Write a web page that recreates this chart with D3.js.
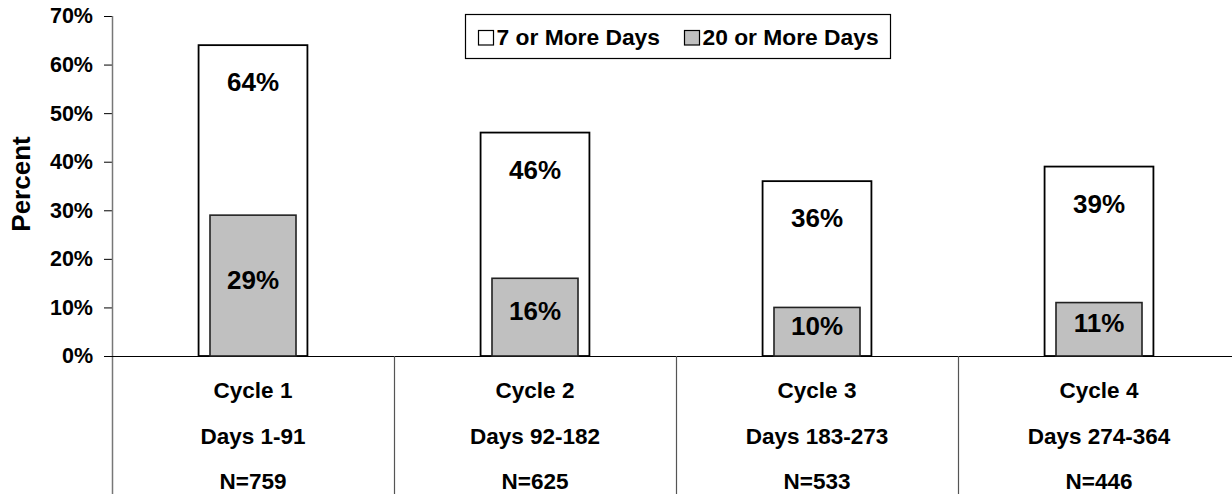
<!DOCTYPE html>
<html>
<head>
<meta charset="utf-8">
<script src="https://cdn.jsdelivr.net/npm/d3@7"></script>
<style>
  html, body { margin: 0; padding: 0; background: #fff; }
  svg { display: block; }
  text { font-family: "Liberation Sans", Arial, sans-serif; font-weight: bold; fill: #000; }
</style>
</head>
<body>
<svg id="chart" width="1232" height="494"></svg>
<script>
// ---- data ----
const categories = ["Cycle 1", "Cycle 2", "Cycle 3", "Cycle 4"];
const dayRanges = ["Days 1-91", "Days 92-182", "Days 183-273", "Days 274-364"];
const sampleSizes = ["N=759", "N=625", "N=533", "N=446"];
const sevenOrMore = [64, 46, 36, 39];
const twentyOrMore = [29, 16, 10, 11];
const seriesNames = ["7 or More Days", "20 or More Days"];
const yTicks = [0, 10, 20, 30, 40, 50, 60, 70];

// ---- layout ----
const W = 1232, H = 494;
const svg = d3.select("#chart");
const x = d3.scaleBand().domain(categories).range([112, 1240]).padding(0);
const y = d3.scaleLinear().domain([0, 70]).range([356, 16]);
const wideW = x.bandwidth() * 0.386;
const narrowW = x.bandwidth() * 0.305;
const fills = ["#ffffff", "#c0c0c0"];

// y axis
const yAxis = d3.axisLeft(y).tickValues(yTicks).tickFormat(d => d + "%")
  .tickSize(8).tickPadding(11);
const gy = svg.append("g").attr("transform", "translate(112,0)").call(yAxis);
gy.select(".domain").remove();
gy.selectAll(".tick line").attr("stroke", "#000").attr("stroke-width", 1);
gy.selectAll(".tick text").style("font-size", "21.5px").attr("font-family", null);

// axis lines
svg.append("line").attr("x1", 112.5).attr("x2", 112.5).attr("y1", y(70)).attr("y2", H)
  .attr("stroke", "#777").attr("stroke-width", 1.5);
svg.append("line").attr("x1", 104).attr("x2", W).attr("y1", y(0) + 0.5).attr("y2", y(0) + 0.5)
  .attr("stroke", "#000").attr("stroke-width", 1.2);
// category separators
svg.selectAll("line.sep").data(categories.slice(1)).join("line")
  .attr("class", "sep")
  .attr("x1", d => Math.round(x(d)) + 0.5).attr("x2", d => Math.round(x(d)) + 0.5)
  .attr("y1", y(0)).attr("y2", H)
  .attr("stroke", "#555").attr("stroke-width", 1.2);

// y title
svg.append("text").attr("transform", "translate(30,184) rotate(-90)")
  .attr("text-anchor", "middle").style("font-size", "26px").text("Percent");

// bars
const cx = c => x(c) + x.bandwidth() / 2;
svg.selectAll("rect.wide").data(categories).join("rect")
  .attr("class", "wide")
  .attr("x", d => cx(d) - wideW / 2).attr("width", wideW)
  .attr("y", (d, i) => y(sevenOrMore[i])).attr("height", (d, i) => y(0) - y(sevenOrMore[i]))
  .attr("fill", fills[0]).attr("stroke", "#000").attr("stroke-width", 1.8);
svg.selectAll("rect.narrow").data(categories).join("rect")
  .attr("class", "narrow")
  .attr("x", d => cx(d) - narrowW / 2).attr("width", narrowW)
  .attr("y", (d, i) => y(twentyOrMore[i])).attr("height", (d, i) => y(0) - y(twentyOrMore[i]))
  .attr("fill", fills[1]).attr("stroke", "#222").attr("stroke-width", 1.6);

// value labels
svg.selectAll("text.v1").data(categories).join("text")
  .attr("class", "v1").attr("text-anchor", "middle").style("font-size", "26px")
  .attr("x", d => cx(d)).attr("y", (d, i) => y(sevenOrMore[i]) + 46)
  .text((d, i) => sevenOrMore[i] + "%");
svg.selectAll("text.v2").data(categories).join("text")
  .attr("class", "v2").attr("text-anchor", "middle").style("font-size", "26px")
  .attr("x", d => cx(d)).attr("y", (d, i) => (y(twentyOrMore[i]) + y(0)) / 2 + 3)
  .text((d, i) => twentyOrMore[i] + "%");

// category labels (3 lines)
const lines = [categories, dayRanges, sampleSizes];
const baselines = [398, 444, 488.5];
lines.forEach((arr, li) => {
  svg.selectAll("text.cat" + li).data(arr).join("text")
    .attr("class", "cat" + li).attr("text-anchor", "middle").style("font-size", "22.5px")
    .attr("x", (d, i) => cx(categories[i])).attr("y", baselines[li])
    .text(d => d);
});

// legend
const lg = svg.append("g");
lg.append("rect").attr("x", 465.5).attr("y", 14.5).attr("width", 425).attr("height", 44)
  .attr("fill", "#fff").attr("stroke", "#000").attr("stroke-width", 1.2);
const legX = [478, 684];
seriesNames.forEach((name, i) => {
  lg.append("rect").attr("x", legX[i] + 0.5).attr("y", 30.5).attr("width", 15).attr("height", 14.5)
    .attr("fill", fills[i]).attr("stroke", "#000").attr("stroke-width", 1.2);
  lg.append("text").attr("x", legX[i] + 18.5).attr("y", 45).style("font-size", "22.8px").text(name);
});
</script>
</body>
</html>
